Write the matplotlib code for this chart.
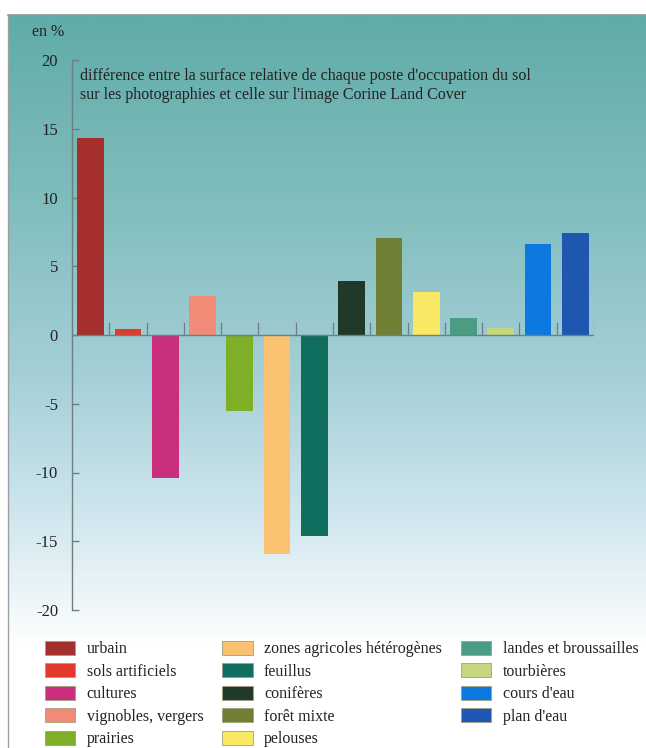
import numpy as np
import matplotlib
matplotlib.use("Agg")
import matplotlib.pyplot as plt
from matplotlib.colors import LinearSegmentedColormap
from matplotlib.patches import Patch
from matplotlib.lines import Line2D

# =======================================================
# DATA
# =======================================================
categories = [
    "urbain", "sols artificiels", "cultures", "vignobles, vergers", "prairies",
    "zones agricoles hétérogènes", "feuillus", "conifères", "forêt mixte", "pelouses",
    "landes et broussailles", "tourbières", "cours d'eau", "plan d'eau",
]
values = [14.3, 0.45, -10.4, 2.85, -5.5, -15.9, -14.6, 3.95, 7.05, 3.1, 1.25, 0.5, 6.6, 7.4]
colours = [
    "#a52f2c", "#e2392a", "#c92f7c", "#f28a78", "#7fae27", "#f9c170", "#0f6e5e",
    "#21392a", "#6f8034", "#f8e864", "#4a9c84", "#c5d77e", "#0c78e0", "#1f56b2",
]
yticks = [20, 15, 10, 5, 0, -5, -10, -15, -20]

TITLE = ("différence entre la surface relative de chaque poste d'occupation du sol\n"
         "sur les photographies et celle sur l'image Corine Land Cover")

# =======================================================
# Style
# =======================================================
plt.rcParams.update({
    "font.family": ["Liberation Serif", "DejaVu Serif"],
    "font.size": 11,
})
W, H = 646, 748
fig = plt.figure(figsize=(W / 100, H / 100), dpi=100)
fig.patch.set_facecolor("white")

# gradient panel behind the chart
bg = fig.add_axes([8 / W, 0, 1 - 8 / W, 1 - 15 / H], zorder=0)
cmap = LinearSegmentedColormap.from_list("bg", [
    (0.00, "#60aca8"),
    (0.25, "#80bdbd"),
    (0.50, "#a6d0d8"),
    (0.68, "#cfe6ee"),
    (0.80, "#eef6f9"),
    (0.86, "#ffffff"),
    (1.00, "#ffffff"),
])
grad = np.linspace(0, 1, 400).reshape(-1, 1)
bg.imshow(grad, aspect="auto", cmap=cmap, extent=[0, 1, 0, 1], origin="upper")
bg.set_axis_off()

# panel border (top and left)
fig.add_artist(Line2D([8 / W, 1], [1 - 15 / H] * 2, color="#8a9a9a", lw=1.2))
fig.add_artist(Line2D([8 / W] * 2, [0, 1 - 15 / H], color="#9aa0a0", lw=1.0))

# =======================================================
# Bars
# =======================================================
ax = fig.add_axes([72 / W, 1 - 610 / H, 522 / W, 550 / H], zorder=1)
ax.patch.set_alpha(0)
x = np.arange(len(categories))
ax.bar(x, values, width=0.72, color=colours, zorder=2)

ax.set_xlim(-0.5, len(categories) - 0.5)
ax.set_ylim(-20, 20)
for s in ["top", "right", "bottom"]:
    ax.spines[s].set_visible(False)
ax.spines["left"].set_color("#6f7f80")
ax.spines["left"].set_linewidth(1.0)
ax.set_yticks(yticks)
ax.set_yticklabels([str(t) for t in yticks])
ax.tick_params(axis="y", direction="in", length=5, width=1.0, color="#6f7f80",
               labelsize=12, pad=10, labelcolor="#222222")
ax.set_xticks([])

# zero line with category separators
ax.axhline(0, color="#6f7f80", lw=1.0, zorder=3)
for b in np.arange(0.5, len(categories), 1.0):
    ax.plot([b, b], [0, 0.9], color="#6f7f80", lw=0.9, zorder=3)

ax.text(0.015, 0.985, TITLE, transform=ax.transAxes, ha="left", va="top",
        fontsize=11.5, color="#222222", linespacing=1.2)
fig.text(32 / W, 1 - 32 / H, "en %", ha="left", va="center", fontsize=11.5, color="#222222")

# =======================================================
# Legend
# =======================================================
handles = [Patch(facecolor=c, edgecolor="#a0a080", linewidth=0.6) for c in colours]
leg = fig.legend(handles, categories, ncol=3, loc="upper left",
                 bbox_to_anchor=(45 / W, 1 - 641 / H), frameon=False,
                 handlelength=1.9, handleheight=0.95, handletextpad=0.7,
                 labelspacing=0.38, columnspacing=1.2, borderaxespad=0,
                 borderpad=0, fontsize=11.5)
for t in leg.get_texts():
    t.set_color("#222222")

fig.savefig("out.png", dpi=100, facecolor="white")
